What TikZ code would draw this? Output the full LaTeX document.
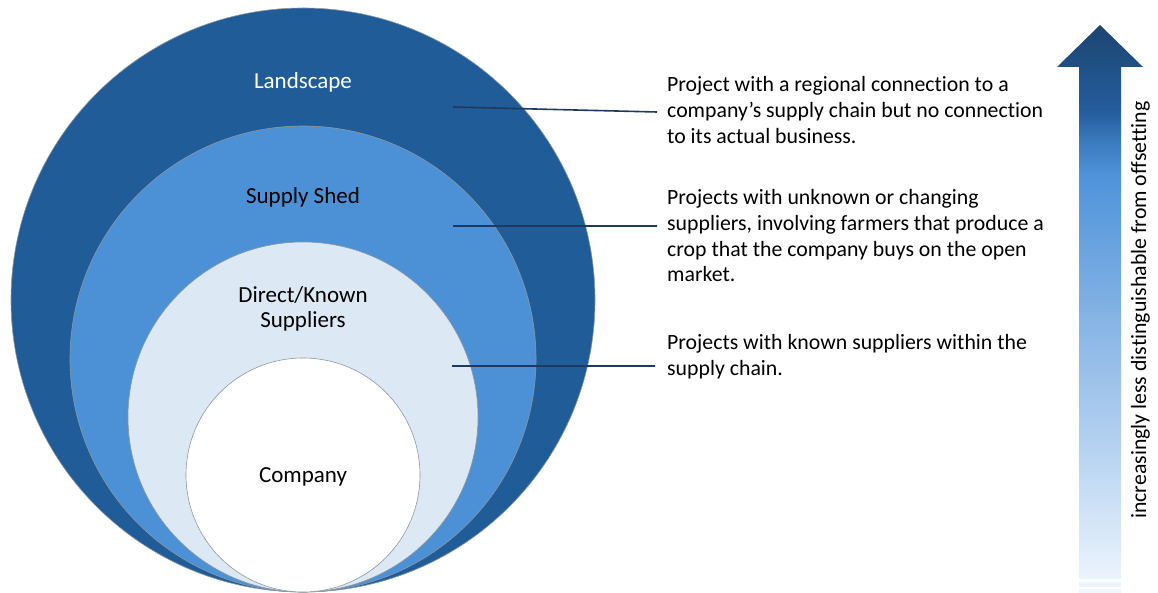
\documentclass[tikz,border=0pt]{standalone}
\usepackage{fontspec}
\setmainfont{Carlito}[Ligatures=NoCommon]
\usetikzlibrary{shapes.geometric,positioning}

\definecolor{landblue}{RGB}{32,93,152}
\definecolor{shedblue}{RGB}{76,145,214}
\definecolor{directblue}{RGB}{220,232,244}
\definecolor{ringedge}{RGB}{140,150,162}
\definecolor{leadblue}{RGB}{30,58,98}
\definecolor{stripeA}{RGB}{236,244,252}
\definecolor{stripeB}{RGB}{242,247,253}

% light at the foot, dark navy at the tip
\pgfdeclareverticalshading{fadeup}{100bp}{%
  color(0bp)=(rgb,255:red,235;green,243;blue,252);
  color(25bp)=(rgb,255:red,235;green,243;blue,252);
  color(36.6bp)=(rgb,255:red,182;green,211;blue,241);
  color(43bp)=(rgb,255:red,157;green,194;blue,234);
  color(50.2bp)=(rgb,255:red,126;green,175;blue,227);
  color(59.2bp)=(rgb,255:red,87;green,153;blue,220);
  color(61.5bp)=(rgb,255:red,79;green,147;blue,216);
  color(64.6bp)=(rgb,255:red,58;green,121;blue,188);
  color(67.3bp)=(rgb,255:red,36;green,92;blue,156);
  color(71.2bp)=(rgb,255:red,31;green,81;blue,134);
  color(75bp)=(rgb,255:red,29;green,69;blue,112);
  color(100bp)=(rgb,255:red,29;green,69;blue,112)}

\begin{document}
\begin{tikzpicture}[x=1pt,y=-1pt,
every node/.style={
        font=\fontsize{21.8}{25.7}\selectfont
    },
    ring/.style = {circle, draw=ringedge, line width=0.6pt, inner sep=0pt,
                   minimum size=#1},
    tag/.style = {anchor=base, align=center, inner sep=0pt,
                  font=\fontsize{23}{24.5}\selectfont},
    note/.style = {anchor=base west, align=left, inner sep=0pt},
    leader/.style = {draw=leadblue, line width=1.6pt}
    ]
\useasboundingbox (0,0) rectangle (1158,593);

% nested circles, all touching at the bottom
\node (Landscape) [ring=584pt, fill=landblue]   at (303,300) {};
\node (Shed)      [ring=466pt, fill=shedblue]   at (303,359) {};
\node (Direct)    [ring=350pt, fill=directblue] at (303,417) {};
\node (Company)   [ring=234pt, fill=white]      at (303,475) {};

% labels sit on the baseline of their last line
\node (LandscapeTag) [tag, text=white] at (303,89)  {Landscape};
\node (ShedTag)      [tag]             at (303,203.5) {Supply Shed};
\node (DirectTag)    [tag]             at (303,327) {Direct/Known\\Suppliers};
\node (CompanyTag)   [tag]             at (303,482) {Company};

% descriptions
\node (Note1) [note] at (667,143.3)
        {Project with a regional connection to a\\company’s supply chain but no connection\\to its actual business.};
\node (Note2) [note] at (667,282)
        {Projects with unknown or changing\\suppliers, involving farmers that produce a\\crop that the company buys on the open\\market.};
\node (Note3) [note] at (667,375)
        {Projects with known suppliers within the\\supply chain.};

\coordinate (in1)  at (453,107);
\coordinate (out1) at (657,112);
\coordinate (in2)  at (453,226);
\coordinate (out2) at (657,226);
\coordinate (in3)  at (452,366);
\coordinate (out3) at (655,366);
\path[leader] (in1) -- (out1)
              (in2) -- (out2)
              (in3) -- (out3);

% scale arrow
\shade[shading=fadeup] (1100,25) -- (1143,67) -- (1121,67) -- (1121,579)
        -- (1079,579) -- (1079,67) -- (1057,67) -- cycle;
\fill[stripeA] (1079,582) rectangle (1121,586.5);
\fill[stripeB] (1079,589) rectangle (1121,592.5);

\node (Scale) [anchor=base, rotate=90, inner sep=0pt] at (1146,310)
        {increasingly less distinguishable from offsetting};
\end{tikzpicture}
\end{document}
